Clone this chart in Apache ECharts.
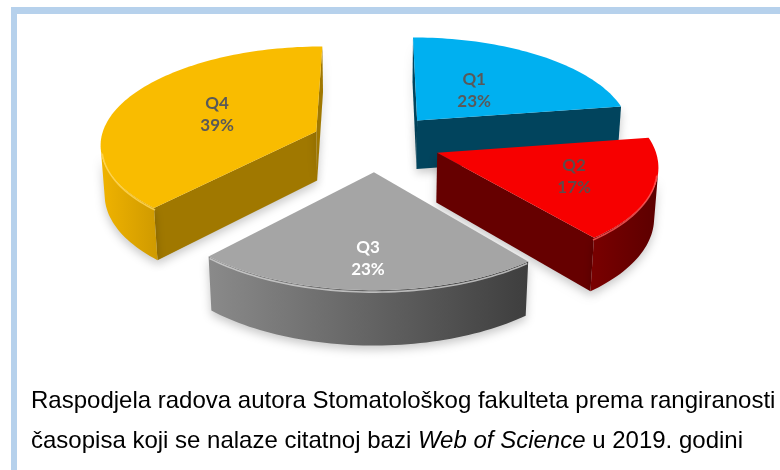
<!DOCTYPE html>
<html>
<head>
<meta charset="utf-8">
<script src="https://cdn.jsdelivr.net/npm/echarts@6/dist/echarts.min.js"></script>
<style>
  html, body { margin: 0; padding: 0; background: #ffffff; }
  #chart { width: 780px; height: 470px; }
</style>
</head>
<body>
<div id="chart"></div>
<script>
// Journal quartile shares (percent of papers)
const categories = ['Q1', 'Q2', 'Q3', 'Q4'];
const shares = [23, 17, 23, 39];
const captionLine1 = 'Raspodjela radova autora Stomatološkog fakulteta prema rangiranosti';
const captionLine2a = 'časopisa koji se nalaze citatnoj bazi ';
const captionItalic = 'Web of Science';
const captionLine2b = ' u 2019. godini';

// Palette per slice: top face, flat cut walls, outer rim wall (gradient), rim highlight, label
const palette = [
  { top: '#00b0f0', cut: '#01445d', rim: ['#0a6a8f', '#01445d'], glow: '#4fd0ff', label: '#595959' },
  { top: '#f70000', cut: '#660000', rim: ['#7a0000', '#5c0000'], glow: '#ff5a5a', label: '#5f4a4a' },
  { top: '#a5a5a5', cut: '#5a5a5a', rim: ['#8a8a8a', '#3e3e3e'], glow: '#d2d2d2', label: '#ffffff' },
  { top: '#f9bc00', cut: '#a07800', rim: ['#f0b300', '#cf9a00'], glow: '#ffd75a', label: '#595959' }
];

// Simple perspective camera looking down on the pie
const cam = {
  cx: 376, cy: 142,          // screen position of pie centre
  elev: 26.7 * Math.PI / 180, // camera elevation
  dist: 7.83,                 // camera distance (in pie radii)
  focal: 1692,                // focal length in px
  depth: 0.26,                // slice thickness (in pie radii)
  explode: 0.3,               // slice offset (in pie radii)
  startDeg: 0
};
const cosE = Math.cos(cam.elev), sinE = Math.sin(cam.elev);
const camPos = [0, cam.dist * sinE, -cam.dist * cosE];

function project(X, Y, Z) {
  const zc = cam.dist + Z * cosE - Y * sinE;
  return [cam.cx + cam.focal * X / zc, cam.cy - cam.focal * (Y * cosE + Z * sinE) / zc];
}
function facing(n, p) {
  return n[0] * (camPos[0] - p[0]) + n[1] * (camPos[1] - p[1]) + n[2] * (camPos[2] - p[2]) > 0;
}

const total = shares.reduce((a, b) => a + b, 0);
const startAngles = [];
(function () {
  let acc = cam.startDeg;
  shares.forEach(v => { startAngles.push(acc); acc += v / total * 360; });
})();
const rad = d => d * Math.PI / 180;
// paint far slices first
const depthRank = {};
shares.map((v, i) => {
  const mid = rad(startAngles[i] + v / total * 180);
  return { i, z: Math.cos(mid) };
}).sort((a, b) => b.z - a.z).forEach((o, r) => { depthRank[o.i] = r; });

function renderSlice(params, api) {
  const i = params.dataIndex;
  const value = api.value(0);
  const a0 = rad(startAngles[i]);
  const a1 = rad(startAngles[i] + value / total * 360);
  const mid = (a0 + a1) / 2;
  const ox = cam.explode * Math.sin(mid), oz = cam.explode * Math.cos(mid);
  const h = cam.depth;
  const P = (phi, rho, Y) => project(ox + rho * Math.sin(phi), Y, oz + rho * Math.cos(phi));
  const pal = palette[i];
  const base = depthRank[i] * 10;
  const children = [];

  const steps = Math.max(8, Math.ceil((a1 - a0) / rad(1.5)));
  const angles = [];
  for (let k = 0; k <= steps; k++) angles.push(a0 + (a1 - a0) * k / steps);

  const shadow = { shadowBlur: 10, shadowOffsetY: 4, shadowColor: 'rgba(0,0,0,0.22)' };

  // cut wall at the start angle
  const n0 = [-Math.cos(a0), 0, Math.sin(a0)];
  if (facing(n0, [ox + 0.5 * Math.sin(a0), -h / 2, oz + 0.5 * Math.cos(a0)])) {
    children.push({
      type: 'polygon', z2: base,
      shape: { points: [P(0, 0, 0), P(a0, 1, 0), P(a0, 1, -h), P(0, 0, -h)] },
      style: Object.assign({ fill: pal.cut }, shadow)
    });
  }
  // cut wall at the end angle
  const n1 = [Math.cos(a1), 0, -Math.sin(a1)];
  if (facing(n1, [ox + 0.5 * Math.sin(a1), -h / 2, oz + 0.5 * Math.cos(a1)])) {
    children.push({
      type: 'polygon', z2: base,
      shape: { points: [P(0, 0, 0), P(a1, 1, 0), P(a1, 1, -h), P(0, 0, -h)] },
      style: Object.assign({ fill: pal.cut }, shadow)
    });
  }
  // outer rim wall, only the part turned toward the camera
  const vis = angles.filter(phi => facing([Math.sin(phi), 0, Math.cos(phi)],
    [ox + Math.sin(phi), -h / 2, oz + Math.cos(phi)]));
  if (vis.length > 1) {
    const topArc = vis.map(phi => P(phi, 1, 0));
    const botArc = vis.map(phi => P(phi, 1, -h)).reverse();
    children.push({
      type: 'polygon', z2: base + 1,
      shape: { points: topArc.concat(botArc) },
      style: Object.assign({
        fill: new echarts.graphic.LinearGradient(0, 0, 1, 0, [
          { offset: 0, color: pal.rim[0] }, { offset: 1, color: pal.rim[1] }
        ])
      }, shadow)
    });
  }
  // top face
  const topPts = [P(0, 0, 0)].concat(angles.map(phi => P(phi, 1, 0)));
  children.push({
    type: 'polygon', z2: base + 2,
    shape: { points: topPts },
    style: { fill: pal.top }
  });
  // rounded-edge highlight along the visible rim
  if (vis.length > 1) {
    children.push({
      type: 'polyline', z2: base + 3,
      shape: { points: vis.map(phi => P(phi, 0.995, -0.012)) },
      style: { stroke: pal.glow, lineWidth: 1.6, fill: null, opacity: 0.8 }
    });
  }
  // label on the top face, pushed toward the viewer for near slices
  const rhoL = 0.58 - 0.18 * Math.cos(mid);
  const lp = P(mid, rhoL, 0);
  children.push({
    type: 'text', z2: 100,
    x: lp[0], y: lp[1],
    style: {
      text: categories[i] + '\n' + Math.round(value) + '%',
      fill: pal.label,
      fontFamily: 'Lato', fontWeight: 'bold', fontSize: 17,
      lineHeight: 22, align: 'center', verticalAlign: 'middle'
    }
  });
  return { type: 'group', children };
}

const chart = echarts.init(document.getElementById('chart'), null, { renderer: 'canvas' });
chart.setOption({
  backgroundColor: '#ffffff',
  animation: false,
  series: [{
    type: 'custom',
    coordinateSystem: 'none',
    renderItem: renderSlice,
    data: shares.map((v, i) => ({ name: categories[i], value: [v] }))
  }],
  graphic: [
    { type: 'rect', shape: { x: 11, y: 7, width: 769, height: 7 }, style: { fill: '#b6d1ec' } },
    { type: 'rect', shape: { x: 11, y: 7, width: 6, height: 463 }, style: { fill: '#b6d1ec' } },
    {
      type: 'text', x: 31, y: 381,
      style: {
        text: captionLine1 + '\n' + captionLine2a + '{i|' + captionItalic + '}' + captionLine2b,
        fill: '#000000', fontFamily: 'Liberation Sans', fontSize: 24, lineHeight: 40,
        verticalAlign: 'top',
        rich: { i: { fontStyle: 'italic', fontFamily: 'Liberation Sans', fontSize: 24, lineHeight: 40, fill: '#000000' } }
      }
    }
  ]
});
</script>
</body>
</html>
